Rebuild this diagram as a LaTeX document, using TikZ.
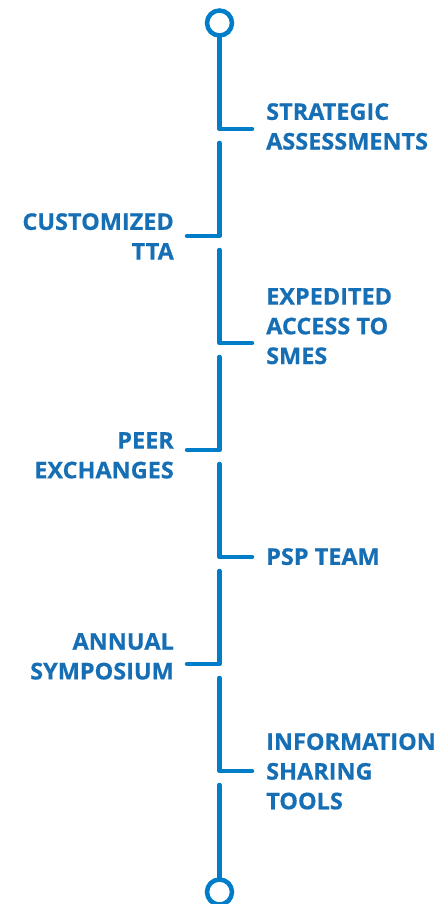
\documentclass[tikz,border=0pt]{standalone}
\usepackage{fontspec}
\setmainfont{Open Sans}[BoldFeatures={FakeStretch=1.02, FakeBold=0.6}]
\usepackage{xcolor}
\usepackage{tikz}
\usetikzlibrary{positioning,calc}

\definecolor{spineblue}{RGB}{0,125,200}
\definecolor{labelblue}{RGB}{22,110,180}

\begin{document}
\begin{tikzpicture}[x=1pt, y=-1pt,
  spine/.style={draw=spineblue, line width=4.5pt, line cap=round, line join=round},
  ring/.style={circle, draw=spineblue, line width=4.5pt, fill=white, minimum size=25pt, inner sep=0pt},
  rlabel/.style={anchor=north west, inner sep=0pt, align=left, text=labelblue, font=\fontsize{23}{29.7}\selectfont\bfseries},
  llabel/.style={anchor=north east, inner sep=0pt, align=right, text=labelblue, font=\fontsize{23}{29.7}\selectfont\bfseries}]
\useasboundingbox (0,0) rectangle (447,904);
% end circles
\node[ring] (top) at (219.5,23) {};
\node[ring] (bot) at (219.5,892) {};
% spine pieces
\coordinate (s2) at (219.5,143);
\coordinate (s3) at (219.5,250);
\coordinate (s4) at (219.5,357);
\coordinate (s5) at (219.5,464);
\coordinate (s6) at (219.5,571);
\coordinate (s7) at (219.5,678);
\coordinate (s8) at (219.5,785);
\coordinate (t1) at (252,129);
\coordinate (t2) at (187,236);
\coordinate (t3) at (252,343);
\coordinate (t4) at (187,450);
\coordinate (t5) at (252,557);
\coordinate (t6) at (187,664);
\coordinate (t7) at (252,771);
\draw[spine] (top.south) |- (t1);
\draw[spine] (s2) |- (t2);
\draw[spine] (s3) |- (t3);
\draw[spine] (s4) |- (t4);
\draw[spine] (s5) |- (t5);
\draw[spine] (s6) |- (t6);
\draw[spine] (s7) |- (t7);
\draw[spine] (s8) -- (bot.north);
% labels
\node[rlabel] (strat) at (266,103) {STRATEGIC\\ASSESSMENTS};
\node[llabel] (tta) at (174,213) {CUSTOMIZED\\TTA};
\node[rlabel] (smes) at (266,288) {EXPEDITED\\ACCESS TO\\SMES};
\node[llabel] (peer) at (174,432) {PEER\\EXCHANGES};
\node[rlabel] (psp) at (266,548) {PSP TEAM};
\node[llabel] (symp) at (174,633) {ANNUAL\\SYMPOSIUM};
\node[rlabel] (info) at (266,733) {INFORMATION\\SHARING\\TOOLS};
\end{tikzpicture}
\end{document}
